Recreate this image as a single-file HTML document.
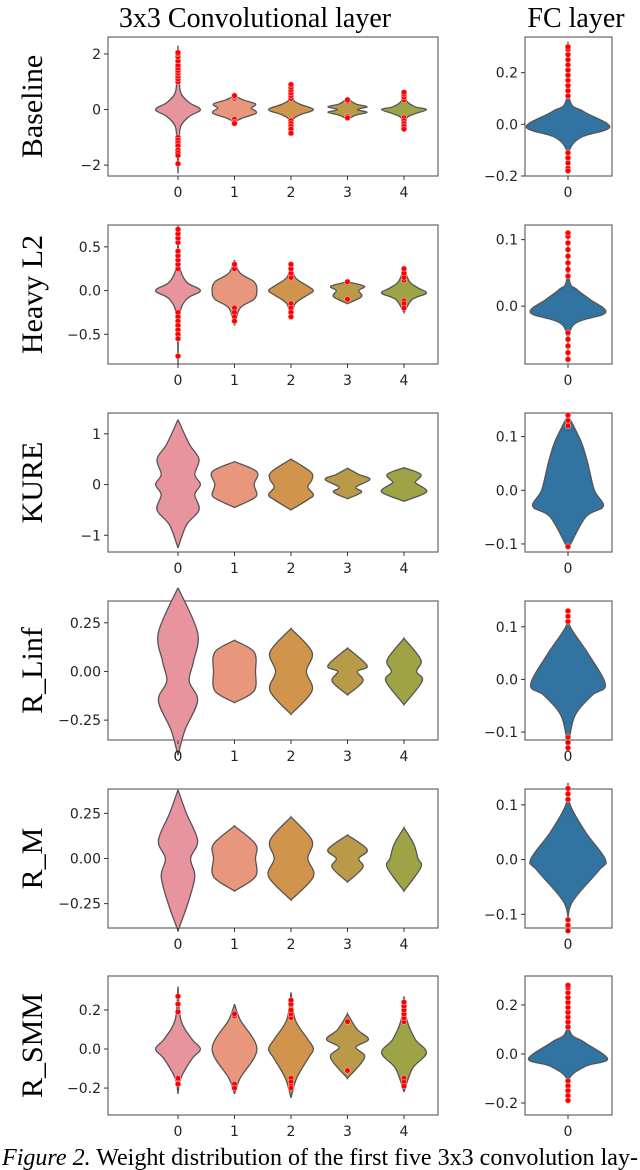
<!DOCTYPE html>
<html><head><meta charset="utf-8"><style>
html,body{margin:0;padding:0;background:#fff;}
svg{display:block;}
</style></head><body>
<svg id="fig" width="640" height="1170" xmlns="http://www.w3.org/2000/svg">
<text x="255" y="27" font-family="Liberation Serif, serif" font-size="28" text-anchor="middle">3x3 Convolutional layer</text>
<text x="576" y="27" font-family="Liberation Serif, serif" font-size="28" text-anchor="middle">FC layer</text>
<text x="2" y="1165" font-family="Liberation Serif, serif" font-size="24" textLength="636" lengthAdjust="spacingAndGlyphs"><tspan font-style="italic">Figure 2.</tspan> Weight distribution of the first five 3x3 convolution lay-</text>
</svg>
<script>
const rowNames = ["Baseline","Heavy L2","KURE","R_Linf","R_M","R_SMM"];
const categories = [0,1,2,3,4];
const convColors = ["#e8949f","#e8977c","#d0944c","#b89a48","#9ea445"];
const fcColor = "#3274a1";
const convYlim = [[-2.39,2.61],[-0.84,0.75],[-1.33,1.41],[-0.352,0.362],[-0.385,0.385],[-0.338,0.374]];
const fcYlim = [[-0.2,0.338],[-0.087,0.122],[-0.115,0.144],[-0.115,0.149],[-0.125,0.129],[-0.249,0.318]];
const convTicks = [[-2,0,2],[-0.5,0,0.5],[-1,0,1],[-0.25,0,0.25],[-0.25,0,0.25],[-0.2,0,0.2]];
const convTickLabels = [["−2","0","2"],["−0.5","0.0","0.5"],["−1","0","1"],["−0.25","0.00","0.25"],["−0.25","0.00","0.25"],["−0.2","0.0","0.2"]];
const fcTicks = [[-0.2,0,0.2],[0,0.1],[-0.1,0,0.1],[-0.1,0,0.1],[-0.1,0,0.1],[-0.2,0,0.2]];
const fcTickLabels = [["−0.2","0.0","0.2"],["0.0","0.1"],["−0.1","0.0","0.1"],["−0.1","0.0","0.1"],["−0.1","0.0","0.1"],["−0.2","0.0","0.2"]];
// violin profiles: [values, relative widths, outliers] per row per category
const convViolins = [
 [
  [[-2.3,-1.2,-0.6,-0.25,0,0.25,0.6,1.2,2.3],[0,.04,.1,.4,.8,.4,.1,.04,0],[1.0,1.1,1.2,1.3,1.4,1.5,1.6,1.75,1.9,2.0,2.05,-1.0,-1.1,-1.2,-1.3,-1.45,-1.55,-1.65,-1.95]],
  [[-0.45,-0.3,-0.15,-0.05,0.05,0.2,0.35,0.5],[0,.3,.75,.75,.6,.75,.3,0],[0.4,0.45,0.5,-0.35,-0.45,-0.5]],
  [[-0.9,-0.4,-0.2,0,0.2,0.4,0.95],[0,.05,.3,.8,.3,.05,0],[0.4,0.5,0.6,0.7,0.8,0.9,-0.4,-0.5,-0.6,-0.7,-0.85]],
  [[-0.35,-0.2,-0.1,0,0.1,0.2,0.4],[0,.3,.7,.35,.7,.3,0],[0.3,0.35,-0.25,-0.3]],
  [[-0.75,-0.3,-0.15,0,0.1,0.3,0.65],[0,.1,.4,.8,.4,.1,0],[0.35,0.45,0.55,0.62,-0.3,-0.4,-0.5,-0.6,-0.7]]
 ],
 [
  [[-0.85,-0.3,-0.1,0,0.1,0.3,0.75],[0,.05,.3,.8,.3,.05,0],[0.25,0.3,0.35,0.4,0.45,0.55,0.6,0.65,0.7,-0.25,-0.3,-0.35,-0.4,-0.45,-0.5,-0.55,-0.75]],
  [[-0.4,-0.2,-0.1,0,0.1,0.2,0.35],[0,.2,.7,.8,.7,.2,0],[0.25,0.3,-0.2,-0.25,-0.3,-0.35]],
  [[-0.32,-0.15,-0.05,0,0.05,0.15,0.3],[0,.15,.6,.8,.6,.15,0],[0.15,0.2,0.25,0.3,-0.15,-0.2,-0.25,-0.3]],
  [[-0.15,-0.07,0,0.05,0.1],[0,.5,.4,.6,0],[0.1,-0.1]],
  [[-0.25,-0.1,-0.03,0.03,0.1,0.25],[0,.3,.8,.5,.2,0],[0.12,0.15,0.2,0.25,-0.12,-0.15,-0.2]]
 ],
 [
  [[-1.25,-0.8,-0.5,-0.2,0,0.2,0.5,0.8,1.28],[0,.3,.75,.6,.8,.6,.75,.4,0],[]],
  [[-0.45,-0.3,-0.2,0,0.25,0.45],[0,.6,.8,.7,.8,0],[]],
  [[-0.5,-0.3,-0.2,-0.05,0.1,0.25,0.5],[0,.6,.8,.6,.75,.7,0],[]],
  [[-0.28,-0.15,-0.05,0.1,0.2,0.32],[0,.5,.3,.8,.4,0],[]],
  [[-0.33,-0.15,0,0.05,0.2,0.33],[0,.8,.5,.4,.6,0],[]]
 ],
 [
  [[-0.43,-0.3,-0.15,-0.05,0.05,0.2,0.43],[0,.25,.7,.4,.55,.7,0],[]],
  [[-0.16,-0.1,0,0.1,0.16],[0,.7,.75,.7,0],[]],
  [[-0.22,-0.1,0,0.1,0.22],[0,.75,.55,.75,0],[]],
  [[-0.12,-0.05,0,0.03,0.12],[0,.55,.35,.7,0],[]],
  [[-0.17,-0.05,0,0.06,0.17],[0,.65,.45,.6,0],[]]
 ],
 [
  [[-0.4,-0.25,-0.1,0,0.1,0.25,0.38],[0,.35,.6,.45,.7,.3,0],[]],
  [[-0.18,-0.1,0,0.08,0.18],[0,.75,.75,.75,0],[]],
  [[-0.23,-0.1,0,0.1,0.23],[0,.8,.6,.75,0],[]],
  [[-0.13,-0.05,0,0.05,0.13],[0,.55,.4,.7,0],[]],
  [[-0.18,-0.05,0,0.08,0.17],[0,.6,.5,.35,0],[]]
 ],
 [
  [[-0.23,-0.15,-0.05,0,0.05,0.15,0.32],[0,.1,.5,.8,.5,.1,0],[0.19,0.23,0.27,-0.15,-0.18]],
  [[-0.23,-0.15,0,0.15,0.23],[0,.2,.8,.2,0],[0.17,0.18,-0.18,-0.2]],
  [[-0.25,-0.15,-0.05,0,0.05,0.15,0.29],[0,.2,.6,.8,.6,.15,0],[0.16,0.18,0.2,0.23,0.25,-0.15,-0.17,-0.19,-0.2]],
  [[-0.15,-0.07,-0.03,0.01,0.05,0.1,0.18],[0,.5,.6,.3,.75,.35,0],[0.14,-0.11]],
  [[-0.22,-0.1,-0.02,0.05,0.15,0.27],[0,.3,.8,.4,.1,0],[0.14,0.16,0.18,0.2,0.22,0.24,-0.15,-0.17,-0.19]]
 ]
];
const fcViolins = [
 [[-0.18,-0.1,-0.05,-0.01,0.05,0.1,0.32],[0,.03,.3,.95,.35,.03,0],[0.11,0.13,0.15,0.17,0.19,0.21,0.23,0.25,0.27,0.29,0.3,-0.11,-0.13,-0.15,-0.17,-0.18]],
 [[-0.085,-0.03,-0.01,0.01,0.025,0.04,0.11],[0,.1,.85,.5,.2,.03,0],[0.045,0.055,0.065,0.075,0.085,0.095,0.105,0.11,-0.04,-0.05,-0.06,-0.07,-0.08]],
 [[-0.11,-0.05,-0.03,0,0.05,0.09,0.14],[0,.4,.8,.6,.45,.3,0],[0.12,0.13,0.14,-0.105]],
 [[-0.13,-0.07,-0.03,-0.01,0.05,0.1,0.13],[0,.15,.55,.85,.45,.05,0],[0.11,0.12,0.13,-0.11,-0.12,-0.13]],
 [[-0.13,-0.08,-0.02,0,0.05,0.1,0.14],[0,.08,.7,.85,.4,.05,0],[0.11,0.12,0.13,-0.11,-0.12,-0.13]],
 [[-0.19,-0.1,-0.05,-0.02,0.05,0.1,0.29],[0,.03,.4,.9,.35,.03,0],[0.11,0.13,0.15,0.17,0.19,0.21,0.23,0.25,0.27,0.28,-0.11,-0.13,-0.15,-0.17,-0.19]]
];

const NS="http://www.w3.org/2000/svg";
const svg=document.getElementById('fig');
function mk(tag,attrs,parent){const e=document.createElementNS(NS,tag);for(const k in attrs)e.setAttribute(k,attrs[k]);(parent||svg).appendChild(e);return e;}
const rowTops=[37,225,413,601,789,976];
const BOX_H=139;
const conv={x0:108,x1:438,cx0:178,step:56.5,hw:28};
const fc={x0:525,x1:612,cx:568,hw:44};
function yScale(lim,top){return v=>top+BOX_H-(v-lim[0])/(lim[1]-lim[0])*BOX_H;}
function smoothPath(pts){
  let d=`M${pts[0][0]},${pts[0][1]}`;
  for(let i=0;i<pts.length-1;i++){
    const p0=pts[Math.max(i-1,0)],p1=pts[i],p2=pts[i+1],p3=pts[Math.min(i+2,pts.length-1)];
    const c1=[p1[0]+(p2[0]-p0[0])/6,p1[1]+(p2[1]-p0[1])/6];
    const c2=[p2[0]-(p3[0]-p1[0])/6,p2[1]-(p3[1]-p1[1])/6];
    d+=` C${c1[0].toFixed(1)},${c1[1].toFixed(1)} ${c2[0].toFixed(1)},${c2[1].toFixed(1)} ${p2[0].toFixed(1)},${p2[1].toFixed(1)}`;
  }
  return d;
}
function violin(g,cx,hw,ys,ws,outs,y,color,name){
  const right=ys.map((v,i)=>[cx+ws[i]*hw,y(v)]).reverse();
  const left=ys.map((v,i)=>[cx-ws[i]*hw,y(v)]);
  let d=smoothPath(right)+' '+smoothPath(left).replace(/^M/,'L')+' Z';
  const p=mk('path',{d:d,fill:color,stroke:'#555','stroke-width':1.3},g);
  
  
  outs.forEach(v=>{
    const c=mk('circle',{cx:cx,cy:y(v),r:2.8,fill:'#ff0000',stroke:'#f6b0b0','stroke-width':0.6},g);
    
    
  });
}
function axisBox(g,x0,x1,top,ticks,labels,y,name){
  const r=mk('rect',{x:x0,y:top,width:x1-x0,height:BOX_H,fill:'none',stroke:'#666','stroke-width':1.2},g);
  
  
  ticks.forEach((t,i)=>{
    mk('line',{x1:x0-4,x2:x0,y1:y(t),y2:y(t),stroke:'#333','stroke-width':1},g);
    const tx=mk('text',{x:x0-7,y:y(t)+5,'font-family':'DejaVu Sans, sans-serif','font-size':14,'text-anchor':'end',fill:'#222'},g);
    tx.textContent=labels[i];
    
    
  });
}
function xTick(g,x,top,label){
  mk('line',{x1:x,x2:x,y1:top+BOX_H,y2:top+BOX_H+4,stroke:'#333','stroke-width':1},g);
  const t=mk('text',{x:x,y:top+BOX_H+21,'font-family':'DejaVu Sans, sans-serif','font-size':14,'text-anchor':'middle',fill:'#222'},g);
  t.textContent=label;
  
  
}
rowNames.forEach((rn,r)=>{
  const top=rowTops[r];
  const g=mk('g',{});
  
  
  const lbl=mk('text',{x:0,y:0,transform:`translate(42,${top+BOX_H/2}) rotate(-90)`,'font-family':'Liberation Serif, serif','font-size':30,'text-anchor':'middle',fill:'#000'},g);
  lbl.textContent=rn;
  
  
  const yc=yScale(convYlim[r],top);
  axisBox(g,conv.x0,conv.x1,top,convTicks[r],convTickLabels[r],yc,'conv-axes');
  categories.forEach((c,i)=>{
    const cx=conv.cx0+c*conv.step;
    const v=convViolins[r][i];
    violin(g,cx,conv.hw,v[0],v[1],v[2],yc,convColors[i],'conv-violin-'+c);
    xTick(g,cx,top,String(c));
  });
  const yf=yScale(fcYlim[r],top);
  axisBox(g,fc.x0,fc.x1,top,fcTicks[r],fcTickLabels[r],yf,'fc-axes');
  const fv=fcViolins[r];
  violin(g,fc.cx,fc.hw,fv[0],fv[1],fv[2],yf,fcColor,'fc-violin');
  xTick(g,fc.cx,top,"0");
});
</script>
</body></html>
